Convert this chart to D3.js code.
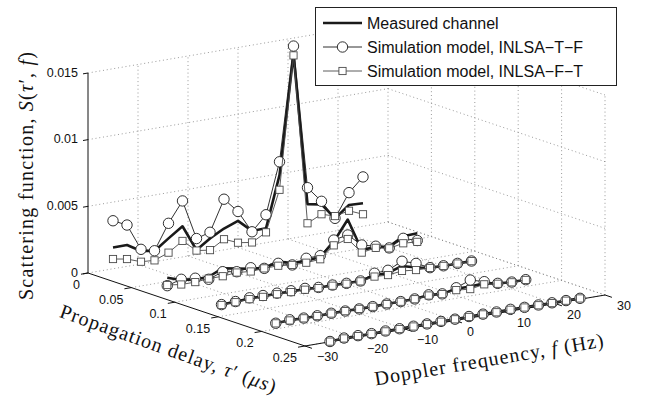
<!DOCTYPE html>
<html>
<head>
<meta charset="utf-8">
<script src="https://cdn.jsdelivr.net/npm/d3@7"></script>
<style>
    body { margin: 0; background: #fff; }
    svg { display: block; }
    .tickLabel { font-family: "Liberation Sans", Arial, sans-serif; font-size: 12.5px; fill: #111; }
    .axisTitle { font-family: "Liberation Serif", "Times New Roman", serif; font-size: 20px; fill: #111; }
    .legendText { font-family: "Liberation Sans", Arial, sans-serif; font-size: 16px; fill: #111; }
    .grid { stroke: #808080; stroke-width: 0.8; stroke-dasharray: 1,2.8; fill: none; }
    .axisLine { stroke: #111; stroke-width: 1; fill: none; }
</style>
</head>
<body>
<script>
(function(){

    //doppler frequencies (Hz) and delay rows (us)
    var dopplerF = [-25, -22.2, -19.4, -16.7, -13.9, -11.1, -8.3, -5.6, -2.8, 0, 2.8, 5.6, 8.3, 11.1, 13.9, 16.7, 19.4, 22.2, 25];
    var delayTau = [0, 0.0625, 0.125, 0.1875, 0.25];

    //measured channel, one row per delay
    var measured = [
        [0.0016, 0.0016, 0.00097, 0.0008, 0.00157, 0.0023, 0.00034, 0.00104, 0.0016, 0.002, 0.00107, 0.00108, 0.0049, 0.0138, 0.00237, 0.00217, 0.00095, 0.00177, 0.00172],
        [0.0007, 0.00035, 0.0002, 0.00024, 0.0007, 0.0005, 0.0003, 0.0002, 0.0005, 0.0002, 0.0002, 0.0003, 0.00127, 0.00276, 0.0003, 0.00035, 0.0002, 0.0008, 0.00084],
        [0.00005, 0.00008, 0.00015, 0.00015, 0.00015, 0.00015, 0.00015, 0.00008, 0.00008, 0.00005, 0.00005, 0.0003, 0.0003, 0.00064, 0.00035, 0.00015, 0.00012, 0.00012, 0.00012],
        [0.00002, 0.00007, 0.00004, 0.00004, 0.00005, 0.00005, 0.00003, 0.00003, 0.00005, 0.00005, 0.00006, 0.00018, 0.0001, 0.0003, 0.0003, 0.00035, 0.00017, 0.0001, 0.0001],
        [0.00002, 0.00008, 0.00008, 0.00007, 0.00008, 0.00008, 0.00009, 0.00009, 0.0001, 0.0001, 0.0001, 0.00012, 0.0001, 0.00012, 0.0001, 0.00009, 0.00008, 0.00008, 0.00007]
    ];

    //simulation model INLSA-T-F
    var inlsaTF = [
        [0.0036, 0.0031, 0.0011, 0.00082, 0.0027, 0.0042, 0.0012, 0.0015, 0.0038, 0.0027, 0.001, 0.0021, 0.0059, 0.0144, 0.0036, 0.0024, 0.00095, 0.0027, 0.0037],
        [0.0001, 0.0004, 0.0003, 0.00005, 0.00044, 0.00026, 0.00038, 0.00016, 0.00036, 0.00006, 0.00038, 0.0004, 0.0014, 0.0016, 0.00067, 0.0004, 0.0001, 0.00064, 0.0003],
        [0.00005, 0.0001, 0.0002, 0.0002, 0.0002, 0.0002, 0.0002, 0.0001, 0.0001, 0.00005, 0.00005, 0.00045, 0.0005, 0.001, 0.00066, 0.00016, 0.00013, 0.00013, 0.00013],
        [0.00002, 0.0001, 0.00005, 0.00005, 0.00006, 0.00005, 0.00003, 0.00003, 0.00005, 0.00005, 0.00007, 0.0002, 0.0001, 0.00038, 0.00078, 0.00048, 0.00018, 0.0001, 0.0001],
        [0.00002, 0.0001, 0.0001, 0.00008, 0.0001, 0.00009, 0.0001, 0.0001, 0.00011, 0.0001, 0.00012, 0.00012, 0.00011, 0.00013, 0.0001, 0.0001, 0.00009, 0.00008, 0.00007]
    ];

    //simulation model INLSA-F-T
    var inlsaFT = [
        [0.00073, 0.00055, 0.00017, 0.0001, 0.0005, 0.0012, 0.0003, 0.00016, 0.0008, 0.00036, 0.0002, 0.00078, 0.0038, 0.0137, 0.00093, 0.00143, 0.00112, 0.00134, 0.0009],
        [0.00015, 0.00001, 0.00001, 0.0001, 0.0001, 0.0002, 0.0001, 0.00016, 0.00018, 0.00006, 0.00005, 0.00013, 0.001, 0.0013, 0.0001, 0.00028, 0.00007, 0.00027, 0.0002],
        [0.00002, 0.00005, 0.0001, 0.0001, 0.00012, 0.0001, 0.0001, 0.00005, 0.00005, 0.00002, 0.00002, 0.0002, 0.00014, 0.00027, 0.00016, 0.00014, 0.00012, 0.00012, 0.00012],
        [0.00001, 0.00005, 0.00003, 0.00003, 0.00004, 0.00004, 0.00003, 0.00002, 0.00004, 0.00004, 0.00005, 0.00015, 0.00008, 0.0002, 0.0001, 0.00028, 0.00015, 0.00008, 0.00008],
        [0.00001, 0.00007, 0.00007, 0.00006, 0.00007, 0.00007, 0.00008, 0.00008, 0.00009, 0.00009, 0.00009, 0.0001, 0.00009, 0.0001, 0.00009, 0.00008, 0.00007, 0.00007, 0.00006]
    ];

    //tick values
    var zTicks = [0, 0.005, 0.01, 0.015];
    var tauTicks = [0, 0.05, 0.1, 0.15, 0.2, 0.25];
    var fTicks = [-30, -20, -10, 0, 10, 20, 30];

    var width = 650,
        height = 396;

    var svg = d3.select("body")
        .append("svg")
        .attr("width", width)
        .attr("height", height);

    //scales, each axis mapped to 0..1 along its box edge
    var fScale = d3.scaleLinear().domain([-30, 30]).range([0, 1]);
    var tScale = d3.scaleLinear().domain([0, 0.25]).range([0, 1]);
    var zScale = d3.scaleLinear().domain([0, 0.015]).range([0, 1]);

    //screen vectors of the box edges (orthographic view)
    var origin = [88, 273],
        fVec = [300, -51],
        tVec = [217, 73],
        zVec = [0, -200];

    function proj(t, f, z){
        var a = fScale(f), b = tScale(t), c = zScale(z);
        return [origin[0] + a * fVec[0] + b * tVec[0] + c * zVec[0],
                origin[1] + a * fVec[1] + b * tVec[1] + c * zVec[1]];
    }

    function seg(p, q){
        svg.append("line")
            .attr("class", "grid")
            .attr("x1", p[0]).attr("y1", p[1])
            .attr("x2", q[0]).attr("y2", q[1]);
    }

    var fMin = -30, fMax = 30, tMin = 0, tMax = 0.25, zMax = 0.015;

    //back wall at tau = 0
    zTicks.forEach(function(z){ seg(proj(tMin, fMin, z), proj(tMin, fMax, z)); });
    fTicks.slice(1).forEach(function(f){ seg(proj(tMin, f, 0), proj(tMin, f, zMax)); });

    //back wall at f = 30
    zTicks.forEach(function(z){ seg(proj(tMin, fMax, z), proj(tMax, fMax, z)); });
    tauTicks.slice(1).forEach(function(t){ seg(proj(t, fMax, 0), proj(t, fMax, zMax)); });

    //floor
    fTicks.slice(1).forEach(function(f){ seg(proj(tMin, f, 0), proj(tMax, f, 0)); });
    tauTicks.slice(1).forEach(function(t){ seg(proj(t, fMin, 0), proj(t, fMax, 0)); });

    //axis lines
    var axes = svg.append("g");
    function axisSeg(p, q){
        axes.append("line")
            .attr("class", "axisLine")
            .attr("x1", p[0]).attr("y1", p[1])
            .attr("x2", q[0]).attr("y2", q[1]);
    }
    axisSeg(proj(tMin, fMin, 0), proj(tMin, fMin, zMax));
    axisSeg(proj(tMin, fMin, 0), proj(tMax, fMin, 0));
    axisSeg(proj(tMax, fMin, 0), proj(tMax, fMax, 0));

    //z ticks
    zTicks.forEach(function(z){
        var p = proj(tMin, fMin, z);
        axisSeg(p, proj(tMin, fMin - 1, z));
        svg.append("text")
            .attr("class", "tickLabel")
            .attr("x", p[0] - 10)
            .attr("y", p[1] + 3.5)
            .attr("text-anchor", "end")
            .text(d3.format("")(z));
    });

    //tau ticks
    tauTicks.forEach(function(t){
        var p = proj(t, fMin, 0);
        axisSeg(p, proj(t, fMin - 1.4, 0));
        svg.append("text")
            .attr("class", "tickLabel")
            .attr("x", p[0] - 8)
            .attr("y", p[1] + 16)
            .attr("text-anchor", "end")
            .text(d3.format("")(t));
    });

    //f ticks
    fTicks.forEach(function(f){
        var p = proj(tMax, f, 0);
        axisSeg(p, proj(tMax + 0.008, f, 0));
        svg.append("text")
            .attr("class", "tickLabel")
            .attr("x", p[0] + 12)
            .attr("y", p[1] + 15)
            .attr("text-anchor", "start")
            .text(d3.format("")(f).replace("-", "\u2212"));
    });

    //series
    var series = [
        {name: "Measured channel", data: measured, color: "#1a1a1a", width: 2.6, marker: null},
        {name: "Simulation model, INLSA\u2212T\u2212F", data: inlsaTF, color: "#1a1a1a", width: 0.9, marker: "circle"},
        {name: "Simulation model, INLSA\u2212F\u2212T", data: inlsaFT, color: "#4a4a4a", width: 0.9, marker: "square"}
    ];

    var line = d3.line()
        .x(function(d){ return proj(d.t, d.f, d.z)[0]; })
        .y(function(d){ return proj(d.t, d.f, d.z)[1]; });

    function drawMarker(g, kind, x, y, color){
        if (kind == "circle"){
            g.append("circle")
                .attr("cx", x).attr("cy", y).attr("r", 5.2)
                .style("fill", "#fff").style("stroke", color).style("stroke-width", 0.9);
        } else if (kind == "square"){
            g.append("rect")
                .attr("x", x - 3.6).attr("y", y - 3.6)
                .attr("width", 7.2).attr("height", 7.2)
                .style("fill", "#fff").style("stroke", color).style("stroke-width", 0.9);
        }
    }

    series.forEach(function(s){
        var g = svg.append("g");
        delayTau.forEach(function(t, r){
            var pts = dopplerF.map(function(f, i){
                return {t: t, f: f, z: s.data[r][i]};
            });
            g.append("path")
                .attr("d", line(pts))
                .style("fill", "none")
                .style("stroke", s.color)
                .style("stroke-width", s.width)
                .style("stroke-linejoin", "round");
            if (s.marker){
                pts.forEach(function(d){
                    var p = proj(d.t, d.f, d.z);
                    drawMarker(g, s.marker, p[0], p[1], s.color);
                });
            }
        });
    });

    //axis titles
    var zTitle = svg.append("text")
        .attr("class", "axisTitle")
        .attr("transform", "translate(33,176) rotate(-90)")
        .attr("text-anchor", "middle")
        .attr("textLength", 248)
        .attr("lengthAdjust", "spacing");
    zTitle.append("tspan").text("Scattering function, ");
    zTitle.append("tspan").style("font-style", "italic").text("S");
    zTitle.append("tspan").text("(");
    zTitle.append("tspan").style("font-style", "italic").text("\u03c4");
    zTitle.append("tspan").text("\u2032, ");
    zTitle.append("tspan").style("font-style", "italic").text("f");
    zTitle.append("tspan").text(")");

    var tAngle = Math.atan2(tVec[1], tVec[0]) * 180 / Math.PI;
    var tTitle = svg.append("text")
        .attr("class", "axisTitle")
        .attr("transform", "translate(166,355) rotate(" + (tAngle + 1) + ")")
        .attr("text-anchor", "middle")
        .attr("textLength", 228)
        .attr("lengthAdjust", "spacing");
    tTitle.append("tspan").text("Propagation delay, ");
    tTitle.append("tspan").style("font-style", "italic").text("\u03c4");
    tTitle.append("tspan").text("\u2032 (");
    tTitle.append("tspan").style("font-style", "italic").text("\u03bcs");
    tTitle.append("tspan").text(")");

    var fAngle = Math.atan2(fVec[1], fVec[0]) * 180 / Math.PI;
    var fTitle = svg.append("text")
        .attr("class", "axisTitle")
        .attr("transform", "translate(490,366) rotate(" + fAngle + ")")
        .attr("text-anchor", "middle")
        .attr("textLength", 232)
        .attr("lengthAdjust", "spacing");
    fTitle.append("tspan").text("Doppler frequency, ");
    fTitle.append("tspan").style("font-style", "italic").text("f");
    fTitle.append("tspan").text(" (Hz)");

    //legend
    var legend = svg.append("g");
    legend.append("rect")
        .attr("x", 315.5).attr("y", 7.5)
        .attr("width", 301).attr("height", 78)
        .style("fill", "#fff").style("stroke", "#222").style("stroke-width", 1);
    series.forEach(function(s, i){
        var ly = 23 + i * 24;
        legend.append("line")
            .attr("x1", 323).attr("x2", 362)
            .attr("y1", ly).attr("y2", ly)
            .style("stroke", s.color)
            .style("stroke-width", s.width);
        drawMarker(legend, s.marker, 342.5, ly, s.color);
        legend.append("text")
            .attr("class", "legendText")
            .attr("x", 367)
            .attr("y", ly + 5.5)
            .text(s.name);
    });

})();
</script>
</body>
</html>
